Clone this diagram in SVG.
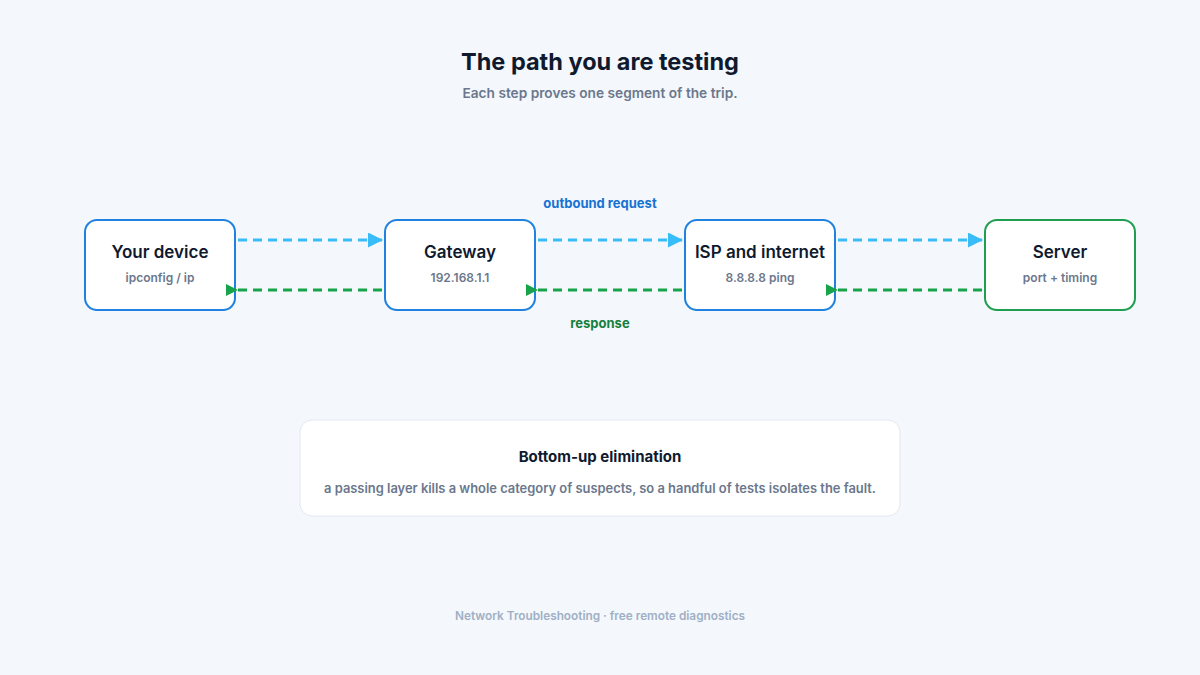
<svg xmlns="http://www.w3.org/2000/svg" width="1200" height="675" viewBox="0 0 1200 675">
<style>
text{font-family:Inter,"Liberation Sans",sans-serif;text-anchor:middle}
.box{fill:#fff;stroke:#1f82e0;stroke-width:2}
.srv{fill:#fff;stroke:#1e9e4e;stroke-width:2}
.t{font-size:17px;font-weight:600;fill:#0f1a2e}
.s{font-size:12px;font-weight:600;fill:#6b778c}
.out{stroke:#38bdf8;stroke-width:3;stroke-dasharray:9 6;fill:none}
.res{stroke:#16a34a;stroke-width:3;stroke-dasharray:9 6;fill:none}
</style>
<defs>
<marker id="ab" viewBox="0 0 10 10" refX="10" refY="5" markerWidth="5" markerHeight="5" orient="auto" markerUnits="strokeWidth"><path d="M0,0L10,5L0,10z" fill="#38bdf8"/></marker>
</defs>
<rect width="1200" height="675" fill="#f4f7fb"/>
<text x="600" y="70" style="font-size:23.5px;font-weight:700;fill:#0f1a2e">The path you are testing</text>
<text x="600" y="98" style="font-size:13.7px;font-weight:600;fill:#6b778c">Each step proves one segment of the trip.</text>
<text x="600" y="208" style="font-size:13px;font-weight:700;fill:#1672d4">outbound request</text>
<text x="600" y="328" style="font-size:13px;font-weight:700;fill:#15803d">response</text>
<g id="device"><rect class="box" x="85" y="220" width="150" height="90" rx="12"/><text class="t" x="160" y="258">Your device</text><text class="s" x="160" y="282">ipconfig / ip</text></g>
<g id="gateway"><rect class="box" x="385" y="220" width="150" height="90" rx="12"/><text class="t" x="460" y="258">Gateway</text><text class="s" x="460" y="282">192.168.1.1</text></g>
<g id="isp"><rect class="box" x="685" y="220" width="150" height="90" rx="12"/><text class="t" x="760" y="258">ISP and internet</text><text class="s" x="760" y="282">8.8.8.8 ping</text></g>
<g id="server"><rect class="srv" x="985" y="220" width="150" height="90" rx="12"/><text class="t" x="1060" y="258">Server</text><text class="s" x="1060" y="282">port + timing</text></g>
<g id="connectors">
<path class="out" d="M238,240H383" marker-end="url(#ab)"/>
<path class="out" d="M538,240H683" marker-end="url(#ab)"/>
<path class="out" d="M838,240H983" marker-end="url(#ab)"/>
<path class="res" d="M382,290H238"/>
<path class="res" d="M682,290H538"/>
<path class="res" d="M982,290H838"/>
<path d="M226,284L238,290L226,296z M526,284L538,290L526,296z M826,284L838,290L826,296z" fill="#16a34a"/>
</g>
<g id="note"><rect x="300" y="420" width="600" height="96" rx="12" fill="#fff" stroke="#e2e8f0"/><text x="600" y="462" style="font-size:15px;font-weight:700;fill:#0f1a2e">Bottom-up elimination</text><text x="600" y="493" style="font-size:12.9px;font-weight:600;fill:#6b778c">a passing layer kills a whole category of suspects, so a handful of tests isolates the fault.</text></g>
<text x="600" y="620" style="font-size:11.8px;font-weight:600;fill:#9fb0c6">Network Troubleshooting · free remote diagnostics</text>
</svg>
